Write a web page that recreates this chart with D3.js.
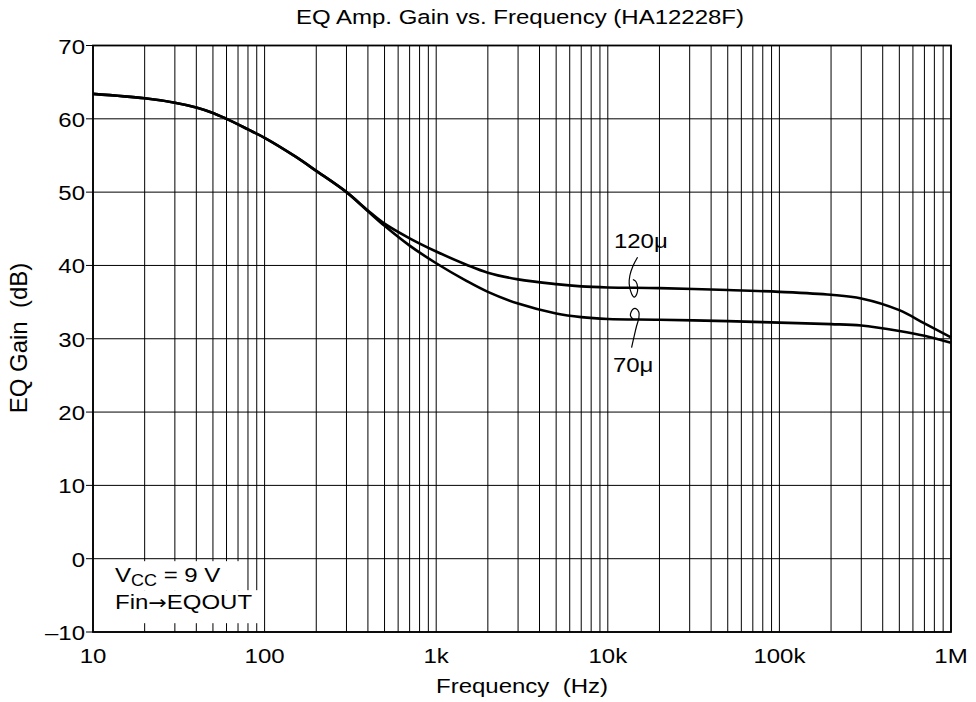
<!DOCTYPE html>
<html>
<head>
<meta charset="utf-8">
<script src="https://cdn.jsdelivr.net/npm/d3@7"></script>
<style>
  body { margin: 0; background: #fff; }
  text { font-family: Arial, "Liberation Sans", Helvetica, sans-serif; fill: #000; white-space: pre; }
</style>
</head>
<body>
<svg width="976" height="702"></svg>
<script>
// --- data ---
var freqs = [10, 20, 30, 40, 50, 60, 70, 80, 100, 150, 200, 300, 400, 500, 700, 1000, 1500, 2000, 3000, 5000, 7000, 10000, 20000, 50000, 100000, 200000, 300000, 500000, 700000, 1000000];
var gain120 = [63.4, 62.8, 62.2, 61.55, 60.8, 60.0, 59.25, 58.55, 57.4, 54.9, 52.9, 50.0, 47.5, 45.7, 43.7, 41.9, 40.1, 39.0, 38.1, 37.45, 37.15, 37.0, 36.9, 36.65, 36.4, 36.0, 35.5, 33.9, 32.1, 30.2];
var gain70 = [63.4, 62.8, 62.2, 61.55, 60.8, 60.0, 59.25, 58.55, 57.4, 54.9, 52.9, 50.0, 47.4, 45.4, 42.7, 40.3, 37.9, 36.4, 34.8, 33.45, 32.95, 32.7, 32.6, 32.4, 32.2, 32.0, 31.8, 31.05, 30.4, 29.45];
var seriesNames = ["120\u03bc", "70\u03bc"];

var xTickVals = [10, 100, 1000, 10000, 100000, 1000000];
var xTickLabels = ["10", "100", "1k", "10k", "100k", "1M"];
var yTickVals = [-10, 0, 10, 20, 30, 40, 50, 60, 70];
var yTickLabels = ["\u201310", "0", "10", "20", "30", "40", "50", "60", "70"];

var svg = d3.select("svg");
var pLeft = 93, pRight = 951, pTop = 45.5, pBottom = 632;
var SQ = 0.87; // horizontal text in the reference is a bit squat

var x = d3.scaleLog().domain([10, 1e6]).range([pLeft, pRight]);
var y = d3.scaleLinear().domain([-10, 70]).range([pBottom, pTop]);

function label(g, px, py, str, anchor, size) {
    return g.append("g")
        .attr("transform", "translate(" + px + "," + py + ") scale(1," + SQ + ")")
        .append("text")
        .attr("text-anchor", anchor || "start")
        .style("font-size", (size || 24) + "px")
        .text(str);
}

// grid
var minor = [];
for (var d = 10; d < 1e6; d *= 10)
    for (var k = 1; k < 10; k++) minor.push(d * k);
minor.push(1e6);

var grid = svg.append("g").attr("class", "grid");
grid.selectAll("line.v").data(minor).enter().append("line")
    .attr("x1", function (f) { return x(f); })
    .attr("x2", function (f) { return x(f); })
    .attr("y1", pTop).attr("y2", pBottom)
    .attr("stroke", "#000").attr("stroke-width", 1);
grid.selectAll("line.h").data(yTickVals).enter().append("line")
    .attr("x1", pLeft).attr("x2", pRight)
    .attr("y1", function (v) { return y(v); })
    .attr("y2", function (v) { return y(v); })
    .attr("stroke", "#000").attr("stroke-width", 1);

// y tick marks outside the frame
svg.append("g").selectAll("line").data(yTickVals).enter().append("line")
    .attr("x1", pLeft - 7).attr("x2", pLeft)
    .attr("y1", function (v) { return y(v); })
    .attr("y2", function (v) { return y(v); })
    .attr("stroke", "#000").attr("stroke-width", 1);

// condition box (white behind text)
var box = svg.append("g");
box.append("rect").attr("x", 113).attr("y", y(0) + 2.5).attr("width", 132).attr("height", 29).attr("fill", "#fff");
box.append("rect").attr("x", 113).attr("y", y(0) + 31.5).attr("width", 149).attr("height", 33).attr("fill", "#fff");

// curves
var line = d3.line()
    .x(function (p) { return x(p[0]); })
    .y(function (p) { return y(p[1]); })
    .curve(d3.curveCatmullRom.alpha(0.5));

[gain120, gain70].forEach(function (g) {
    svg.append("path")
        .datum(freqs.map(function (f, i) { return [f, g[i]]; }))
        .attr("d", line)
        .attr("fill", "none")
        .attr("stroke", "#000")
        .attr("stroke-width", 2.6)
        .attr("stroke-linejoin", "round");
});

// frame
svg.append("rect")
    .attr("x", pLeft).attr("y", pTop)
    .attr("width", pRight - pLeft).attr("height", pBottom - pTop)
    .attr("fill", "none").attr("stroke", "#000").attr("stroke-width", 1.8);

// curve labels with hand-drawn hooks
var annoF = 14000;
var hook = d3.line().curve(d3.curveCatmullRom);
var hook120 = [[4.7, -30.6], [0.3, -22.3], [-3, -12.3], [-3.7, -4], [-1.3, 6], [1.3, 9.4], [4, 6], [4.7, -0.6], [3, -6.3], [0, -8.3]];
var hook70 = [[0.3, 0], [-2.5, -4], [0, -10], [3, -10.7], [6, -7], [6, -1.5], [3.7, 6.7], [1.3, 16.7], [-1.3, 28.3]];
var ax = x(annoF);
var ay120 = y(36.95);
var ay70 = y(32.65);

svg.append("path")
    .attr("d", hook(hook120.map(function (p) { return [ax + p[0], ay120 + p[1]]; })))
    .attr("fill", "none").attr("stroke", "#000").attr("stroke-width", 1.2);
svg.append("path")
    .attr("d", hook(hook70.map(function (p) { return [ax + p[0], ay70 + p[1]]; })))
    .attr("fill", "none").attr("stroke", "#000").attr("stroke-width", 1.2);

label(svg, ax - 19, ay120 - 39.3, seriesNames[0]);
label(svg, ax - 20, ay70 + 52.7, seriesNames[1]);

// tick labels
xTickVals.forEach(function (v, i) {
    label(svg, x(v), 663, xTickLabels[i], "middle");
});
yTickVals.forEach(function (v, i) {
    label(svg, pLeft - 8, y(v) + 8, yTickLabels[i], "end");
});

// condition text
var t1 = label(svg, 115, 581.7, "V", "start");
t1.append("tspan").attr("dy", 5).style("font-size", "18px").text("CC");
t1.append("tspan").attr("dy", -5).text(" = 9 V");
var t2 = label(svg, 115, 609.3, "Fin", "start");
t2.append("tspan").style("font-family", "'DejaVu Sans'").style("font-size", "22px").text("\u2192");
t2.append("tspan").text("EQOUT");

// titles
label(svg, 520, 24.3, "EQ Amp. Gain vs. Frequency (HA12228F)", "middle");
label(svg, 522, 693, "Frequency  (Hz)", "middle");
svg.append("text")
    .attr("transform", "translate(27,338) rotate(-90)")
    .attr("text-anchor", "middle")
    .style("font-size", "24px")
    .text("EQ Gain  (dB)");
</script>
</body>
</html>
